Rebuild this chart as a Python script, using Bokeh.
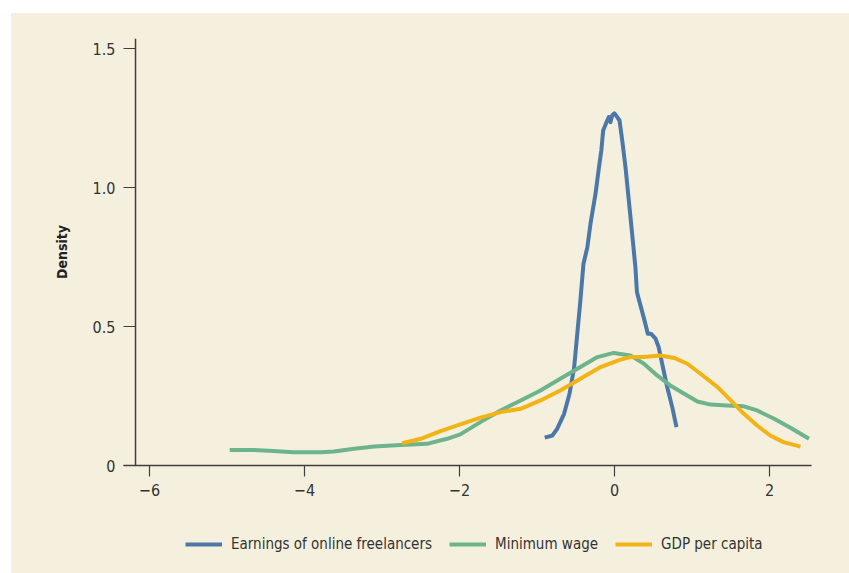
from bokeh.plotting import figure
from bokeh.models import Range1d, FixedTicker, Span, Legend, LegendItem
from bokeh.layouts import column
from bokeh.embed import file_html
from bokeh.resources import INLINE

# ---- data ----
freelancers_x = [-0.90, -0.80, -0.74, -0.65, -0.58, -0.52, -0.48, -0.44, -0.40, -0.35, -0.31,
                 -0.245, -0.20, -0.17, -0.146, -0.103, -0.073, -0.052, -0.03, 0.0, 0.035, 0.065,
                 0.10, 0.142, 0.185, 0.228, 0.27, 0.29, 0.335, 0.387, 0.43, 0.47, 0.53, 0.57,
                 0.615, 0.68, 0.745, 0.80]
freelancers_y = [0.100, 0.108, 0.132, 0.186, 0.258, 0.354, 0.474, 0.594, 0.726, 0.785, 0.869,
                 0.977, 1.073, 1.133, 1.205, 1.235, 1.253, 1.235, 1.259, 1.267, 1.253, 1.241,
                 1.169, 1.073, 0.953, 0.833, 0.713, 0.623, 0.576, 0.522, 0.474, 0.474, 0.456, 0.426,
                 0.366, 0.282, 0.210, 0.138]

minwage_x = [-4.965, -4.655, -4.40, -4.14, -3.79, -3.62, -3.36, -3.10, -2.76, -2.42, -2.16,
             -1.99, -1.73, -1.47, -1.21, -0.955, -0.70, -0.44, -0.22, -0.01, 0.206, 0.38, 0.55,
             0.72, 0.90, 1.07, 1.24, 1.45, 1.67, 1.84, 2.06, 2.27, 2.51]
minwage_y = [0.056, 0.056, 0.052, 0.048, 0.048, 0.050, 0.060, 0.068, 0.074, 0.078, 0.096,
             0.112, 0.156, 0.198, 0.234, 0.270, 0.312, 0.354, 0.390, 0.405, 0.396, 0.366, 0.324,
             0.288, 0.258, 0.230, 0.219, 0.216, 0.213, 0.198, 0.168, 0.136, 0.096]

gdp_x = [-2.74, -2.50, -2.245, -1.99, -1.73, -1.47, -1.21, -0.955, -0.70, -0.44, -0.18, 0.077,
         0.206, 0.38, 0.59, 0.77, 0.94, 1.11, 1.33, 1.50, 1.67, 1.84, 2.01, 2.18, 2.40]
gdp_y = [0.080, 0.096, 0.124, 0.148, 0.172, 0.192, 0.204, 0.234, 0.270, 0.312, 0.354, 0.381,
         0.390, 0.390, 0.396, 0.387, 0.366, 0.330, 0.282, 0.234, 0.186, 0.144, 0.108, 0.084, 0.068]

series_names = ["Earnings of online freelancers", "Minimum wage", "GDP per capita"]
x_ticks = [-6, -4, -2, 0, 2]
x_tick_labels = ["\u22126", "\u22124", "\u22122", "0", "2"]
y_ticks = [0, 0.5, 1.0, 1.5]
y_tick_labels = ["0", "0.5", "1.0", "1.5"]

# ---- styling ----
BG = "#F5F0DE"
AXIS = "#3f3f3f"
TXT = "#333333"
FONT = "'Liberation Sans Narrow', 'DejaVu Sans Condensed', Roboto, sans-serif"
COLORS = ["#4C77A9", "#6DB38B", "#F2B316"]
LW = 4
Y_AXIS_AT = -6.18

p = figure(width=838, height=507, output_backend="svg", toolbar_location=None,
           x_range=Range1d(-6.335, 2.542), y_range=Range1d(0, 1.536),
           background_fill_color=None, border_fill_color=BG,
           min_border_left=112, min_border_top=25, min_border_right=38, min_border_bottom=55)
p.outline_line_color = None
p.grid.visible = False

# x axis
xa = p.xaxis[0]
xa.ticker = FixedTicker(ticks=x_ticks)
xa.major_label_overrides = {t: l for t, l in zip(x_ticks, x_tick_labels)}
xa.minor_tick_line_color = None
xa.major_tick_out = 11
xa.major_tick_in = 0
xa.axis_line_color = AXIS
xa.axis_line_width = 1.5
xa.major_tick_line_color = AXIS
xa.major_tick_line_width = 1.2
xa.major_label_text_font = FONT
xa.major_label_text_font_size = "16px"
xa.major_label_text_color = TXT
xa.major_label_standoff = 7

# y axis
ya = p.yaxis[0]
ya.ticker = FixedTicker(ticks=y_ticks)
ya.major_label_overrides = {t: l for t, l in zip(y_ticks, y_tick_labels)}
ya.minor_tick_line_color = None
ya.major_tick_out = 0
ya.major_tick_in = 12
ya.axis_line_color = None
ya.major_tick_line_color = AXIS
ya.major_tick_line_width = 1.2
ya.major_label_text_font = FONT
ya.major_label_text_font_size = "16px"
ya.major_label_text_color = TXT
ya.major_label_standoff = 8
ya.axis_label = "Density"
ya.axis_label_text_font = FONT
ya.axis_label_text_font_style = "bold"
ya.axis_label_text_font_size = "14px"
ya.axis_label_text_color = "#222222"
ya.axis_label_standoff = 20

p.add_layout(Span(location=Y_AXIS_AT, dimension="height", line_color=AXIS, line_width=1.5))

# lines
p.line(freelancers_x, freelancers_y, line_color=COLORS[0], line_width=LW, line_join="round")
p.line(minwage_x, minwage_y, line_color=COLORS[1], line_width=LW, line_join="round")
p.line(gdp_x, gdp_y, line_color=COLORS[2], line_width=LW, line_join="round")

# legend strip (separate figure below the plot)
lf = figure(width=838, height=53, output_backend="svg", toolbar_location=None,
            x_axis_location=None, y_axis_location=None,
            x_range=Range1d(0, 1), y_range=Range1d(0, 1),
            background_fill_color=None, border_fill_color=BG,
            min_border_left=112, min_border_right=38, min_border_top=0, min_border_bottom=0)
lf.outline_line_color = None
lf.grid.visible = False
items = []
for name, col in zip(series_names, COLORS):
    r = lf.line(x=[float("nan")], y=[float("nan")], line_color=col, line_width=LW)
    items.append(LegendItem(label=name, renderers=[r]))
legend = Legend(items=items, orientation="horizontal", location=(62, 19),
                glyph_width=37, glyph_height=20, label_height=20, label_standoff=9,
                spacing=17, padding=0, margin=0,
                background_fill_alpha=0, border_line_color=None,
                label_text_font=FONT, label_text_font_size="15px", label_text_color=TXT)
lf.add_layout(legend, "center")

layout = column(p, lf, spacing=0)
layout.styles = {"margin-left": "11px", "margin-top": "13px", "background-color": BG}
open("out.html", "w").write(file_html(layout, INLINE))
